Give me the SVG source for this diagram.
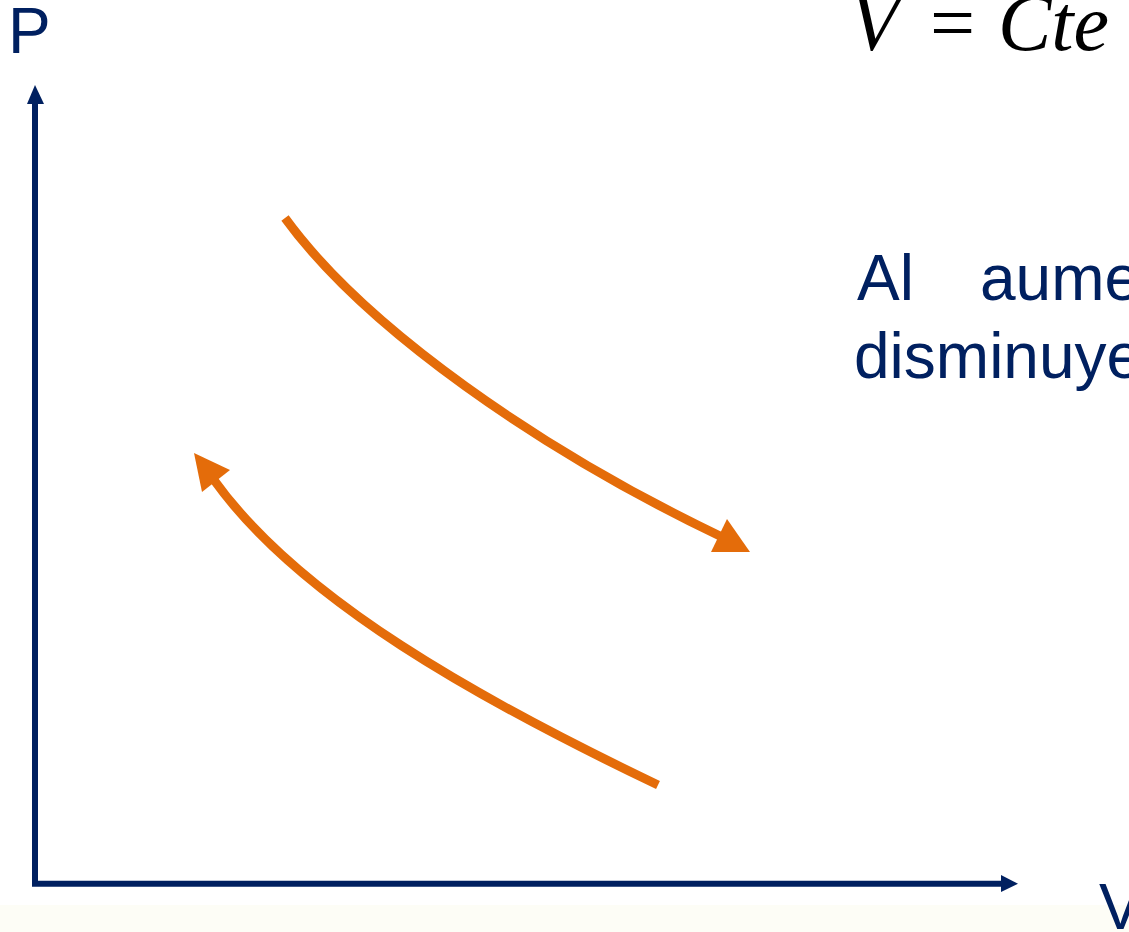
<svg xmlns="http://www.w3.org/2000/svg" width="1129" height="932" viewBox="0 0 1129 932">
<style>
.ax{stroke:#002060;stroke-width:6;fill:none}
.cv{stroke:#E46C0A;stroke-width:9;fill:none}
.lbl{font-family:"Liberation Sans",Arial,sans-serif;font-size:64px;fill:#002060}
.eq{font-family:"Liberation Serif",serif;font-size:80px;fill:#000}
</style>
<rect x="0" y="0" width="1129" height="932" fill="#fff"/>
<rect x="0" y="905" width="1129" height="27" fill="#fdfdf6"/>
<g id="axes">
<path class="ax" d="M35,886 L35,100"/>
<path d="M27,104 L35,85 L44,104 Z" fill="#002060"/>
<path class="ax" d="M32,883.7 L1003,883.7"/>
<path d="M1001,875 L1018,883.7 L1001,892 Z" fill="#002060"/>
</g>
<g id="labels">
<text class="lbl" x="8" y="53">P</text>
<text class="lbl" x="1099" y="929">V</text>
<text class="eq" x="850" y="50" font-style="italic">V</text>
<text class="eq" x="930" y="50">=</text>
<text class="eq" x="998" y="50" font-style="italic">Cte</text>
<text class="lbl" x="857" y="300">Al</text>
<text class="lbl" x="980" y="300">aume</text>
<text class="lbl" x="854" y="378">disminuye</text>
</g>
<g id="connectors">
<path class="cv" d="M285,218 C365,328 540,450 722,537"/>
<path d="M727,519 L750,552 L711,552 Z" fill="#E46C0A"/>
<path class="cv" d="M658,785 C480,700 300,600 214,480"/>
<path d="M194,453 L230,470 L202,492 Z" fill="#E46C0A"/>
</g>
</svg>
